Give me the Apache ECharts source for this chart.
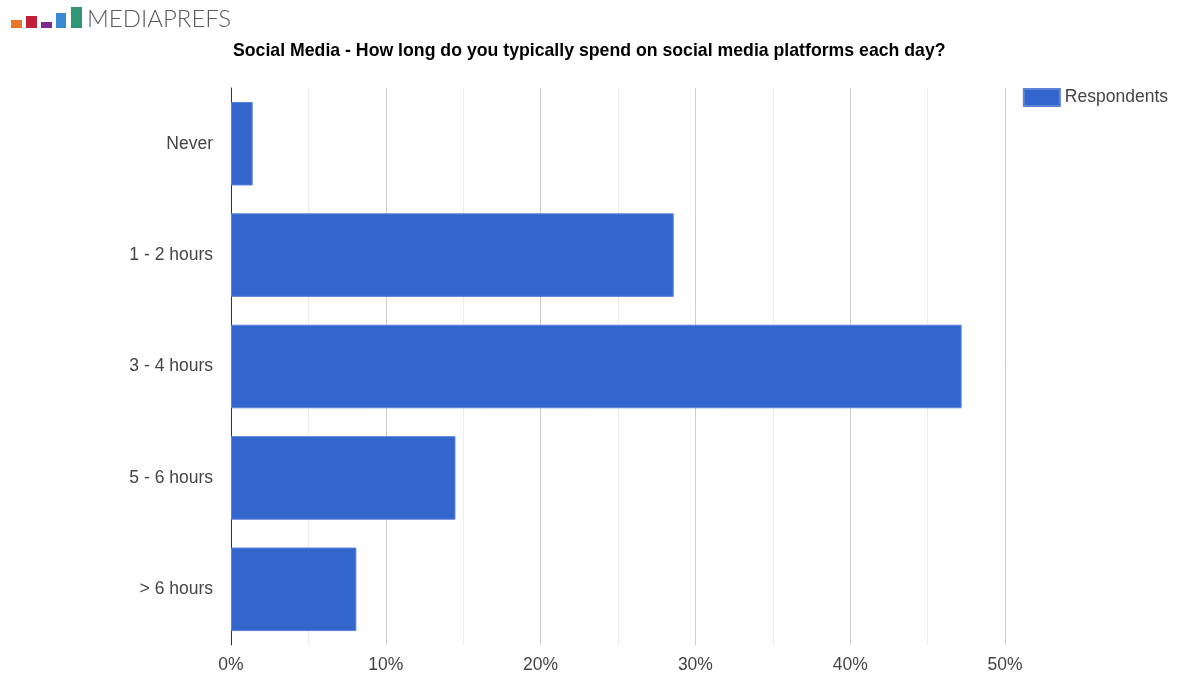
<!DOCTYPE html>
<html>
<head>
<meta charset="utf-8">
<script src="https://cdn.jsdelivr.net/npm/echarts@6/dist/echarts.min.js"></script>
<style>
  html, body { margin: 0; padding: 0; background: #fff; }
  #chart { width: 1177px; height: 675px; }
</style>
</head>
<body>
<div id="chart"></div>
<script>
// Daily time spent on social media, share of respondents (%)
const categories = ['Never', '1 - 2 hours', '3 - 4 hours', '5 - 6 hours', '> 6 hours'];
const respondents = [1.4, 28.6, 47.2, 14.5, 8.1];
const seriesName = 'Respondents';
const titleText = 'Social Media - How long do you typically spend on social media platforms each day?';

const FONT = '"Liberation Sans", Arial, sans-serif';

// Brand mark: five small bars of rising height, then the wordmark
const logoBars = [
  { x: 11, y: 20, w: 11, h: 8, color: '#e8772c' },
  { x: 26, y: 16, w: 11, h: 12, color: '#c21f3a' },
  { x: 41, y: 22, w: 11, h: 6, color: '#7d2a90' },
  { x: 56, y: 13, w: 10, h: 15, color: '#3b88d2' },
  { x: 71, y: 7, w: 11, h: 21, color: '#2f9572' }
];

const chart = echarts.init(document.getElementById('chart'), null, { renderer: 'canvas' });

chart.setOption({
  backgroundColor: '#ffffff',
  animation: false,
  textStyle: { fontFamily: FONT },
  title: {
    text: titleText,
    left: 228,
    top: 37,
    textStyle: { fontFamily: FONT, fontSize: 17.7, fontWeight: 'bold', color: '#000' }
  },
  legend: {
    data: [{ name: seriesName, icon: 'rect' }],
    right: 4,
    top: 83,
    itemWidth: 36,
    itemHeight: 17,
    itemGap: 8,
    textStyle: { fontFamily: FONT, fontSize: 17.5, color: '#444' }
  },
  graphic: [
    ...logoBars.map(b => ({
      type: 'rect',
      shape: { x: b.x, y: b.y, width: b.w, height: b.h },
      style: { fill: b.color }
    })),
    {
      type: 'text',
      left: 87,
      top: 7,
      style: {
        text: 'MEDIAPREFS',
        fontFamily: 'Lato, "Open Sans", sans-serif',
        fontWeight: 300,
        fontSize: 24,
        fill: '#5a5a5a'
      }
    }
  ],
  grid: {
    left: 231,
    right: 172,
    top: 88,
    bottom: 30,
    containLabel: false
  },
  xAxis: {
    type: 'value',
    min: 0,
    max: 50,
    interval: 10,
    axisLine: { show: false },
    axisTick: { show: false },
    axisLabel: {
      formatter: '{value}%',
      fontFamily: FONT,
      fontSize: 17.5,
      color: '#444',
      margin: 11
    },
    splitLine: { show: true, lineStyle: { color: '#cccccc', width: 1 } },
    minorTick: { show: false, splitNumber: 2 },
    minorSplitLine: { show: true, lineStyle: { color: '#ebebeb', width: 1 } }
  },
  yAxis: {
    type: 'category',
    data: categories,
    inverse: true,
    axisLine: { show: true, lineStyle: { color: '#333', width: 1 } },
    axisTick: { show: false },
    axisLabel: {
      fontFamily: FONT,
      fontSize: 17.5,
      color: '#444',
      margin: 18
    },
    splitLine: { show: false }
  },
  series: [{
    name: seriesName,
    type: 'bar',
    data: respondents,
    barCategoryGap: '25%',
    itemStyle: { color: '#3366cc', borderColor: '#5b84d8', borderWidth: 1 },
    z: 3
  }]
});
</script>
</body>
</html>
